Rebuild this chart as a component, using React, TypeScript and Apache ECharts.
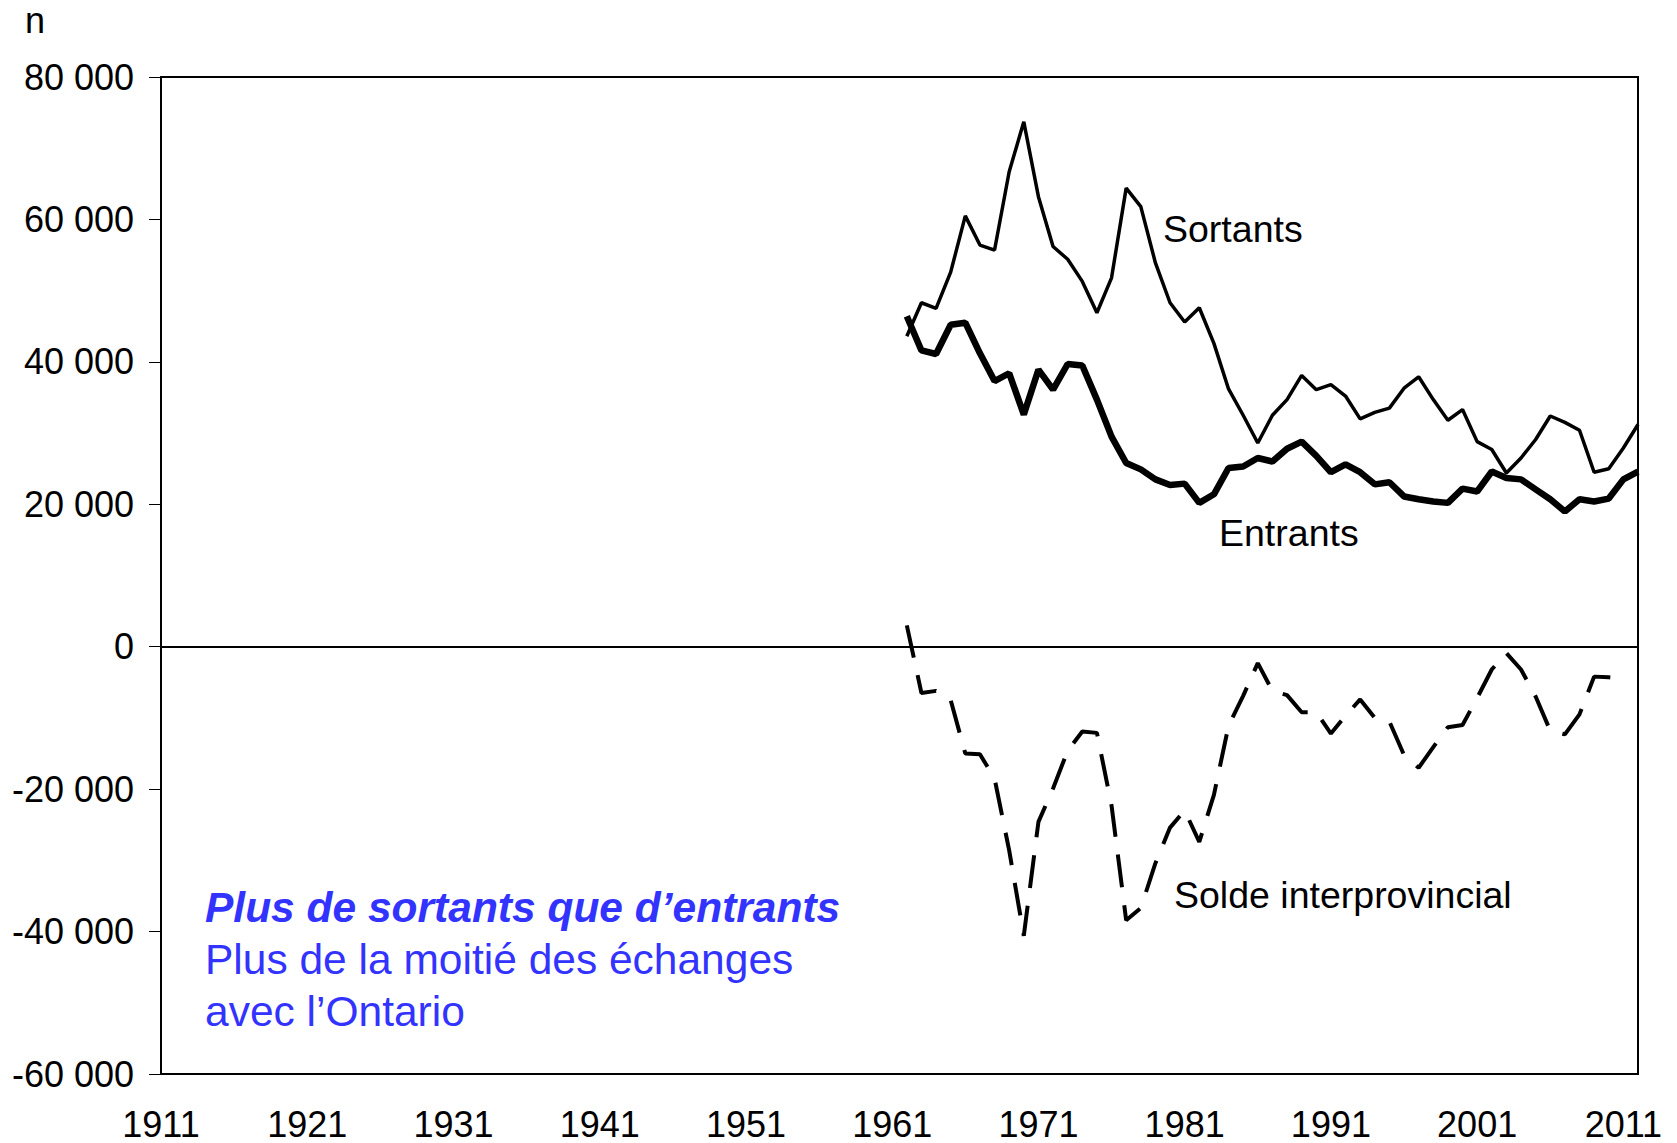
import React, { useEffect, useRef } from "react";
import * as echarts from "echarts";

const FIRST_YEAR = 1911;
const LAST_YEAR = 2012;
const DATA_START = 1962;

const yTicks = [-60000, -40000, -20000, 0, 20000, 40000, 60000, 80000];

// Sortants 1962-2012
const sortants = [
  43600, 48300, 47500, 52600, 60500, 56400, 55700, 66700, 73700, 63200,
  56200, 54400, 51300, 46900, 51800, 64400, 61800, 53900, 48300, 45600,
  47600, 42600, 36200, 32500, 28600, 32500, 34700, 38100, 36100, 36800,
  35200, 32000, 32900, 33500, 36300, 37900, 34700, 31800, 33300, 28800,
  27700, 24400, 26500, 29100, 32400, 31500, 30400, 24500, 25000, 27900,
  31200,
];

// Entrants 1962-2012
const entrants = [
  46400, 41600, 41100, 45200, 45500, 41200, 37300, 38400, 32600, 38900,
  36100, 39700, 39500, 34700, 29500, 25800, 24900, 23500, 22700, 22900,
  20200, 21400, 25100, 25300, 26500, 26000, 27800, 28800, 26800, 24500,
  25600, 24500, 22800, 23100, 21100, 20700, 20400, 20200, 22200, 21800,
  24600, 23700, 23500, 22100, 20700, 19000, 20700, 20400, 20800, 23500,
  24600,
];

// Solde interprovincial 1962-2011
const solde = [
  3000, -6500, -6200, -7500, -15000, -15100, -18500, -28600, -40600, -24600,
  -19900, -14600, -11900, -12100, -22300, -38400, -36700, -30400, -25400, -23000,
  -27400, -20800, -11100, -6900, -2300, -6200, -6800, -9200, -9200, -12200,
  -9700, -7400, -10000, -10500, -15200, -17000, -14100, -11300, -11000, -7200,
  -3200, -900, -3200, -7000, -11800, -12300, -9500, -4200, -4300, -4500,
];

const FONT = "'Liberation Sans', Arial, Helvetica, sans-serif";
const BLUE = "#3333ff";

function buildCategories(): string[] {
  const out: string[] = [];
  for (let y = FIRST_YEAR; y <= LAST_YEAR; y++) out.push(String(y));
  return out;
}

function alignSeries(values: number[]): (number | null)[] {
  const out: (number | null)[] = [];
  for (let y = FIRST_YEAR; y <= LAST_YEAR; y++) {
    const i = y - DATA_START;
    out.push(i >= 0 && i < values.length ? values[i] : null);
  }
  return out;
}

function fmt(v: number): string {
  if (v === 0) return "0";
  const neg = v < 0;
  const s = String(Math.abs(v)).replace(/\B(?=(\d{3})+(?!\d))/g, " ");
  return (neg ? "-" : "") + s;
}

export default function App() {
  const ref = useRef<HTMLDivElement>(null);

  useEffect(() => {
    document.body.style.margin = "0";
    if (!ref.current) return;
    const chart = echarts.init(ref.current, undefined, { renderer: "svg" });
    const categories = buildCategories();

    chart.setOption({
      animation: false,
      backgroundColor: "#ffffff",
      grid: {
        left: 161,
        right: 39,
        top: 77,
        bottom: 69,
        show: true,
        borderColor: "#000",
        borderWidth: 2,
        backgroundColor: "transparent",
      },
      xAxis: {
        type: "category",
        data: categories,
        boundaryGap: false,
        axisLine: { show: true, lineStyle: { color: "#000", width: 2 } },
        axisTick: { show: false },
        splitLine: { show: false },
        axisLabel: {
          interval: 9,
          color: "#000",
          fontSize: 36,
          lineHeight: 30,
          fontFamily: FONT,
          margin: 35,
        },
      },
      yAxis: {
        type: "value",
        min: yTicks[0],
        max: yTicks[yTicks.length - 1],
        interval: 20000,
        axisLine: { show: true, lineStyle: { color: "#000", width: 2 } },
        axisTick: {
          show: true,
          inside: false,
          length: 12,
          lineStyle: { color: "#000", width: 1 },
        },
        splitLine: { show: false },
        axisLabel: {
          color: "#000",
          fontSize: 36,
          fontFamily: FONT,
          margin: 27,
          formatter: (v: number) => fmt(v),
        },
      },
      series: [
        {
          name: "Solde interprovincial",
          type: "line",
          data: alignSeries(solde),
          symbol: "none",
          connectNulls: false,
          lineStyle: { color: "#000", width: 4, type: [33, 18], cap: "butt" },
          z: 3,
          markLine: {
            silent: true,
            symbol: "none",
            label: { show: false },
            lineStyle: { color: "#000", width: 1.5, type: "solid" },
            data: [{ yAxis: 0 }],
            z: 1,
          },
        },
        {
          name: "Sortants",
          type: "line",
          data: alignSeries(sortants),
          symbol: "none",
          lineStyle: { color: "#000", width: 3.5 },
          z: 4,
        },
        {
          name: "Entrants",
          type: "line",
          data: alignSeries(entrants),
          symbol: "none",
          lineStyle: { color: "#000", width: 6.5 },
          z: 5,
        },
      ],
      graphic: [
        {
          type: "text",
          left: 25,
          top: 2,
          style: { text: "n", fill: "#000", font: `36px ${FONT}` },
        },
        {
          type: "text",
          x: 1163,
          y: 229,
          style: {
            text: "Sortants",
            fill: "#000",
            font: `37.5px ${FONT}`,
            verticalAlign: "middle",
          },
        },
        {
          type: "text",
          x: 1219,
          y: 533,
          style: {
            text: "Entrants",
            fill: "#000",
            font: `37.5px ${FONT}`,
            verticalAlign: "middle",
          },
        },
        {
          type: "text",
          x: 1174,
          y: 895,
          style: {
            text: "Solde interprovincial",
            fill: "#000",
            font: `37.5px ${FONT}`,
            verticalAlign: "middle",
          },
        },
        {
          type: "text",
          x: 205,
          y: 907,
          style: {
            text: "Plus de sortants que d\u2019entrants",
            fill: BLUE,
            font: `italic bold 42.5px ${FONT}`,
            verticalAlign: "middle",
          },
        },
        {
          type: "text",
          x: 205,
          y: 959,
          style: {
            text: "Plus de la moiti\u00e9 des \u00e9changes",
            fill: BLUE,
            font: `42.5px ${FONT}`,
            verticalAlign: "middle",
          },
        },
        {
          type: "text",
          x: 205,
          y: 1011,
          style: {
            text: "avec l\u2019Ontario",
            fill: BLUE,
            font: `42.5px ${FONT}`,
            verticalAlign: "middle",
          },
        },
      ],
    });

    return () => {
      chart.dispose();
    };
  }, []);

  return <div ref={ref} style={{ width: 1677, height: 1143 }} />;
}
